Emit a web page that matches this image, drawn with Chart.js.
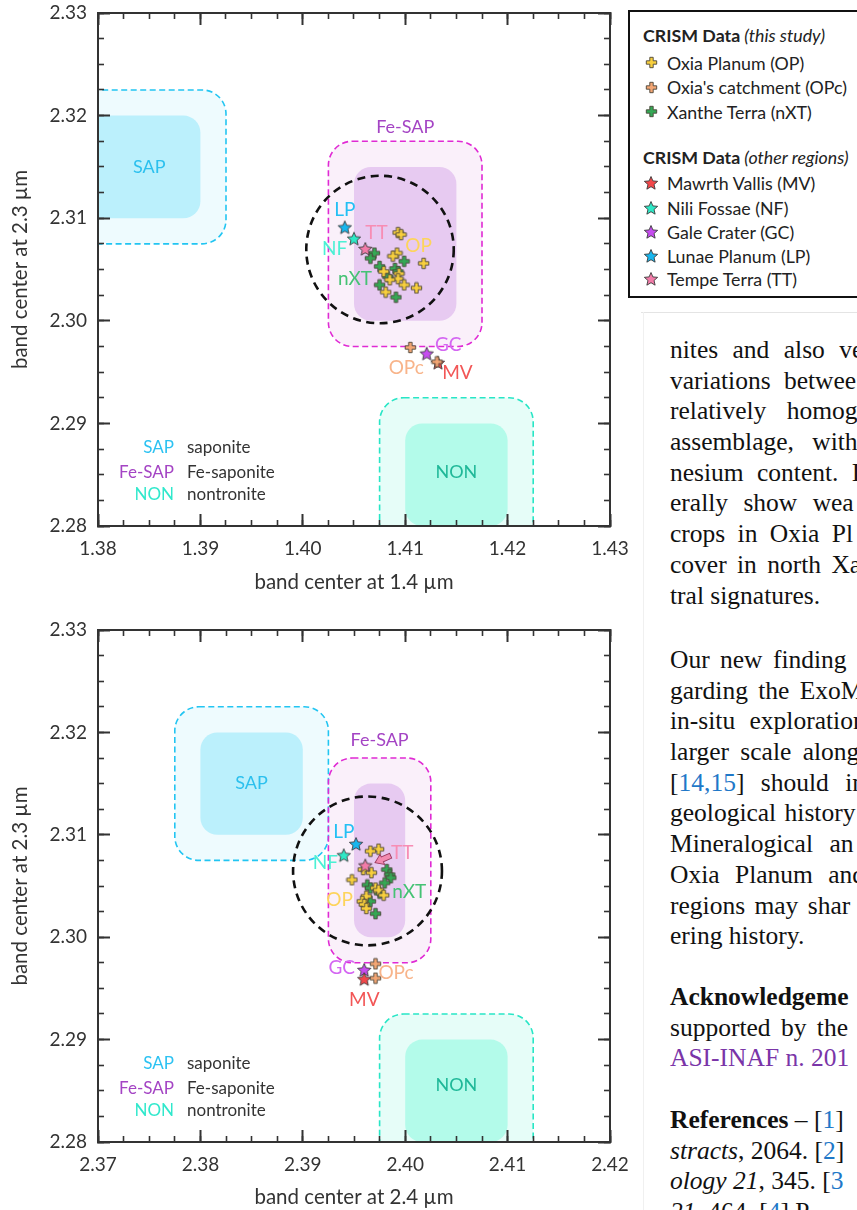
<!DOCTYPE html>
<html>
<head>
<meta charset="utf-8">
<script src="https://cdn.jsdelivr.net/npm/chart.js@4.4.1/dist/chart.umd.min.js"></script>
<style>
  html, body { margin: 0; padding: 0; background: #fff; }
  body { position: relative; width: 857px; height: 1210px; overflow: hidden; }
  canvas.plot { position: absolute; left: 0; width: 640px; height: 600px; }
  #key { position: absolute; left: 628px; top: 10px; width: 300px; height: 284px; border: 2px solid #111;
         background: #fff; font-family: Lato, sans-serif; font-size: 17.8px; color: #222; }
  #key .row { position: absolute; left: 37px; height: 20px; line-height: 20px; white-space: nowrap; }
  #key .row img { position: absolute; }
  #key .head { position: absolute; left: 13px; height: 20px; line-height: 20px; white-space: nowrap; font-weight: 700; }
  #key .head i { font-weight: 400; }
  .rule-h { position: absolute; left: 641px; top: 312px; width: 230px; height: 1px; background: #e4e4e4; }
  .rule-v { position: absolute; left: 643px; top: 312px; width: 1px; height: 900px; background: #f0f0f0; }
  .col { position: absolute; left: 670px; width: 400px; font-family: "Liberation Serif", serif; font-size: 25.5px;
         line-height: 30.7px; color: #111; }
  .col > div { white-space: pre; height: 30.7px; }
  .blue { color: #1f78c8; }
  .purple { color: #7a35a8; }
</style>
</head>
<body>
<canvas id="c14" class="plot" width="640" height="600" style="top:0"></canvas>
<canvas id="c24" class="plot" width="640" height="600" style="top:610px"></canvas>

<div id="key"></div>
<div class="rule-h"></div>
<div class="rule-v"></div>

<div class="col" style="top:335px"><div style="word-spacing:8px">nites and also ve</div><div style="word-spacing:7px">variations betwee</div><div style="word-spacing:14px">relatively homog</div><div style="word-spacing:12px">assemblage, with</div><div style="word-spacing:7px">nesium content. I</div><div style="word-spacing:9px">erally show wea</div><div style="word-spacing:6px">crops in Oxia Pl</div><div style="word-spacing:4px">cover in north Xa</div><div>tral signatures.</div></div>

<div class="col" style="top:645px"><div style="word-spacing:4px">Our new finding</div><div style="word-spacing:4px">garding the ExoM</div><div style="word-spacing:8px">in-situ exploration</div><div style="word-spacing:5px">larger scale along</div><div style="word-spacing:10px">[<span class="blue">14,15</span>] should inc</div><div style="word-spacing:2px">geological history</div><div style="word-spacing:10px">Mineralogical an</div><div style="word-spacing:9px">Oxia Planum and</div><div style="word-spacing:3px">regions may shar</div><div>ering history.</div></div>

<div class="col" style="top:982px"><div><b>Acknowledgeme</b></div><div style="word-spacing:4px">supported by the</div><div class="purple">ASI-INAF n. 201</div></div>

<div class="col" style="top:1105px"><div><b>References</b> – [<span class="blue">1</span>]</div><div><i>stracts</i>, 2064. [<span class="blue">2</span>]</div><div><i>ology 21</i>, 345. [<span class="blue">3</span></div><div><i>21</i>, 464. [<span class="blue">4</span>] P</div></div>

<script>
// ---- series ----
const seriesCodes = ['OP', 'OPc', 'nXT', 'MV', 'NF', 'GC', 'LP', 'TT'];
const seriesNames = ['Oxia Planum (OP)', "Oxia's catchment (OPc)", 'Xanthe Terra (nXT)',
  'Mawrth Vallis (MV)', 'Nili Fossae (NF)', 'Gale Crater (GC)', 'Lunae Planum (LP)', 'Tempe Terra (TT)'];
const seriesFill = ['#f8cf3e', '#f3a674', '#35a855', '#f3474a', '#2ee8c6', '#c64cf0', '#17b6ee', '#f27ba8'];
const seriesTagColor = ['#fdd45c', '#f8b48a', '#45c274', '#f25656', '#4cf0d4', '#d466f2', '#24c0f4', '#f78db4'];

// Oxia Planum crosses: band centre at 1.4, 2.4 and 2.3 µm
const op14 = [1.4093, 1.4096, 1.4092, 1.4088, 1.4118, 1.4079, 1.4094, 1.4093, 1.4085, 1.4099, 1.4111, 1.4081];
const op24 = [2.3974, 2.3966, 2.3959, 2.3967, 2.3948, 2.3971, 2.3974, 2.3979, 2.3962, 2.3958, 2.3960, 2.3962];
const op23 = [2.3086, 2.3084, 2.3066, 2.3063, 2.3056, 2.3048, 2.3046, 2.3041, 2.3040, 2.3035, 2.3032, 2.3028];

// Oxia's catchment
const opc14 = [1.4105, 1.4131];
const opc24 = [2.3971, 2.3971];
const opc23 = [2.2974, 2.2960];

// north Xanthe Terra
const nxt14 = [1.4070, 1.4066, 1.4099, 1.4075, 1.4090, 1.4093, 1.4083, 1.4075, 1.4091];
const nxt24 = [2.3982, 2.3985, 2.3986, 2.3980, 2.3963, 2.3966, 2.3975, 2.3966, 2.3971];
const nxt23 = [2.3066, 2.3061, 2.3058, 2.3053, 2.3051, 2.3048, 2.3043, 2.3035, 2.3023];

// other regions, one reading each: MV, NF, GC, LP, TT
const site14 = [1.4132, 1.4050, 1.4121, 1.4041, 1.4061];
const site24 = [2.3960, 2.3940, 2.3960, 2.3952, 2.3961];
const site23 = [2.2959, 2.3080, 2.2968, 2.3091, 2.3070];

// reference fields: core box [xmin, xmax, ymin, ymax], dashed envelope 0.0025 outside it
const regionCodes = ['SAP', 'Fe-SAP', 'NON'];
const regionNames = ['saponite', 'Fe-saponite', 'nontronite'];
const cores14 = [[1.375, 1.39, 2.31, 2.32], [1.405, 1.415, 2.30, 2.315], [1.41, 1.42, 2.28, 2.29]];
const cores24 = [[2.38, 2.39, 2.31, 2.32], [2.395, 2.40, 2.30, 2.315], [2.40, 2.41, 2.28, 2.29]];
const envelope = 0.0025;

// dashed ring: centre x, centre y, radius (x units)
const ring14 = [1.40754, 2.30695, 0.0072];
const ring24 = [2.39632, 2.30647, 0.00727];

// axis ticks
const xTicks14 = [1.38, 1.39, 1.40, 1.41, 1.42, 1.43];
const xTicks24 = [2.37, 2.38, 2.39, 2.40, 2.41, 2.42];
const yTicks23 = [2.28, 2.29, 2.30, 2.31, 2.32, 2.33];
const minorStep = 0.0025;

const regionLook = [
  {halo: '#eefbfe', core: '#bbf0fc', edge: '#22c5f2', text: '#2cc0ee', key: '#2cc2f2'},
  {halo: '#faf0fa', core: '#e7caf1', edge: '#e02ad4', text: '#a444c4', key: '#a444c4'},
  {halo: '#e6fdf8', core: '#b3fbea', edge: '#28e6c6', text: '#1fb898', key: '#30e8cc'}
];

const INK = '#333';
Chart.defaults.font.family = 'Lato, "Open Sans", sans-serif';
Chart.defaults.color = INK;

function plusIcon(fill) {
  const c = document.createElement('canvas');
  c.width = c.height = 13;
  const g = c.getContext('2d');
  const m = 6.5, a = 5.2, t = 1.7;
  const pts = [[-t, -a], [t, -a], [t, -t], [a, -t], [a, t], [t, t], [t, a], [-t, a], [-t, t], [-a, t], [-a, -t], [-t, -t]];
  g.beginPath();
  pts.forEach(([dx, dy], k) => k ? g.lineTo(m + dx, m + dy) : g.moveTo(m + dx, m + dy));
  g.closePath();
  g.fillStyle = fill; g.fill();
  g.lineWidth = 0.9; g.strokeStyle = '#4a4438'; g.stroke();
  return c;
}

function starIcon(fill) {
  const c = document.createElement('canvas');
  c.width = c.height = 16;
  const g = c.getContext('2d');
  const m = 8, R = 7, r = 3.2;
  g.beginPath();
  for (let k = 0; k < 10; k++) {
    const ang = -Math.PI / 2 + k * Math.PI / 5, rad = k % 2 ? r : R;
    const px = m + rad * Math.cos(ang), py = m + 0.5 + rad * Math.sin(ang);
    k ? g.lineTo(px, py) : g.moveTo(px, py);
  }
  g.closePath();
  g.fillStyle = fill; g.fill();
  g.lineWidth = 0.9; g.strokeStyle = '#3a3a3a'; g.stroke();
  return c;
}

const icons = seriesFill.map((f, i) => i < 3 ? plusIcon(f) : starIcon(f));

function roundBox(ctx, l, t, r, b, rad) {
  const x = Math.min(l, r), y = Math.min(t, b), w = Math.abs(r - l), h = Math.abs(b - t);
  rad = Math.min(rad, w / 2, h / 2);
  ctx.beginPath();
  ctx.moveTo(x + rad, y);
  ctx.arcTo(x + w, y, x + w, y + h, rad);
  ctx.arcTo(x + w, y + h, x, y + h, rad);
  ctx.arcTo(x, y + h, x, y, rad);
  ctx.arcTo(x, y, x + w, y, rad);
  ctx.closePath();
}

function overlay(set) {
  return {
    id: 'overlay',
    beforeDraw(chart) {
      const {ctx, chartArea: a, scales: {x, y}} = chart;
      const px = v => x.getPixelForValue(v), py = v => y.getPixelForValue(v);
      ctx.save();
      ctx.beginPath();
      ctx.rect(a.left, a.top, a.right - a.left, a.bottom - a.top);
      ctx.clip();
      const halo = c => roundBox(ctx, px(c[0] - envelope), py(c[3] + envelope), px(c[1] + envelope), py(c[2] - envelope), 24);
      set.cores.forEach((c, i) => { halo(c); ctx.fillStyle = regionLook[i].halo; ctx.fill(); });
      ctx.setLineDash([6, 3.5]);
      ctx.lineWidth = 1.6;
      set.cores.forEach((c, i) => { halo(c); ctx.strokeStyle = regionLook[i].edge; ctx.stroke(); });
      ctx.setLineDash([]);
      set.cores.forEach((c, i) => {
        roundBox(ctx, px(c[0]), py(c[3]), px(c[1]), py(c[2]), 17);
        ctx.fillStyle = regionLook[i].core;
        ctx.fill();
      });
      ctx.restore();
    },
    beforeDatasetsDraw(chart) {
      const {ctx, scales: {x, y}} = chart;
      const [cx, cy, r] = set.ring;
      const X = x.getPixelForValue(cx), Y = y.getPixelForValue(cy);
      const R = x.getPixelForValue(cx + r) - X;
      ctx.save();
      ctx.setLineDash([8, 5.5]);
      ctx.lineWidth = 2.6;
      ctx.strokeStyle = '#111';
      ctx.beginPath();
      ctx.arc(X, Y, R, 0, Math.PI * 2);
      ctx.stroke();
      ctx.restore();
    },
    afterDatasetsDraw(chart) {
      const {ctx, scales: {x, y}} = chart;
      ctx.save();
      if (set.arrow) {
        const [[x0, y0], [x1, y1]] = set.arrow;
        const ax = x.getPixelForValue(x0), ay = y.getPixelForValue(y0);
        const bx = x.getPixelForValue(x1), by = y.getPixelForValue(y1);
        const ang = Math.atan2(by - ay, bx - ax), len = Math.hypot(bx - ax, by - ay);
        ctx.translate(ax, ay);
        ctx.rotate(ang);
        const hl = 8, sw = 2.6, hw = 5.5;
        ctx.beginPath();
        ctx.moveTo(0, -sw); ctx.lineTo(len - hl, -sw); ctx.lineTo(len - hl, -hw);
        ctx.lineTo(len, 0); ctx.lineTo(len - hl, hw); ctx.lineTo(len - hl, sw); ctx.lineTo(0, sw);
        ctx.closePath();
        ctx.fillStyle = '#f28ab0'; ctx.fill();
        ctx.lineWidth = 0.9; ctx.strokeStyle = '#9a3a5e'; ctx.stroke();
        ctx.setTransform(1, 0, 0, 1, 0, 0);
      }
      ctx.textAlign = 'center';
      ctx.textBaseline = 'middle';
      ctx.font = '19px Lato';
      seriesCodes.forEach((code, i) => {
        const [tx, ty] = set.tags[code];
        ctx.fillStyle = seriesTagColor[i];
        ctx.fillText(code, x.getPixelForValue(tx), y.getPixelForValue(ty));
      });
      ctx.font = '18px Lato';
      regionCodes.forEach((code, i) => {
        const [tx, ty] = set.regionTags[i];
        ctx.fillStyle = regionLook[i].text;
        ctx.fillText(code, x.getPixelForValue(tx), y.getPixelForValue(ty));
      });
      ctx.restore();
    },
    afterDraw(chart) {
      const {ctx, chartArea: a} = chart;
      ctx.save();
      ctx.font = '17px Lato';
      ctx.textBaseline = 'middle';
      [78.5, 53.5, 31.5].forEach((up, i) => {
        ctx.textAlign = 'right';
        ctx.fillStyle = regionLook[i].key;
        ctx.fillText(regionCodes[i], a.left + 76, a.bottom - up);
        ctx.textAlign = 'left';
        ctx.fillStyle = INK;
        ctx.fillText(regionNames[i], a.left + 89, a.bottom - up);
      });
      ctx.restore();
    }
  };
}

function scalesFor(xt, xTitle, axisH, titlePad) {
  const x0 = xt[0], x1 = xt[xt.length - 1], y0 = yTicks23[0], y1 = yTicks23[yTicks23.length - 1];
  const major = {display: true, drawOnChartArea: false, drawTicks: true, tickLength: -12, tickWidth: 2, tickColor: INK};
  const minor = {display: true, drawOnChartArea: false, drawTicks: true, tickLength: -6, tickWidth: 1.6, tickColor: INK};
  const fixed = list => s => { s.ticks = list.map(v => ({value: v})); };
  const steps = (lo, hi) => s => {
    const n = Math.round((hi - lo) / minorStep);
    const list = [];
    for (let k = 0; k <= n; k++) list.push(lo + k * minorStep);
    s.ticks = list.map(v => ({value: v}));
  };
  const flatH = s => { s.height = 0; s.paddingLeft = 0; s.paddingRight = 0; };
  const flatW = s => { s.width = 0; s.paddingTop = 0; s.paddingBottom = 0; };
  const hidden = {display: false};
  return {
    x: {
      type: 'linear', position: 'bottom', weight: 1, min: x0, max: x1,
      afterBuildTicks: fixed(xt),
      grid: major, border: {display: true, width: 2, color: INK},
      ticks: {padding: 23.6, color: INK, font: {size: 19}, maxRotation: 0, autoSkip: false, callback: v => v.toFixed(2)},
      title: {display: true, text: xTitle, color: INK, font: {size: 20.5}, padding: {top: 0, bottom: titlePad}},
      afterFit: s => { s.height = axisH; s.paddingLeft = 0; s.paddingRight = 0; }
    },
    xMinor: {
      type: 'linear', position: 'bottom', weight: 0, min: x0, max: x1,
      afterBuildTicks: steps(x0, x1), grid: minor, border: hidden, ticks: hidden, afterFit: flatH
    },
    xTop: {
      type: 'linear', position: 'top', weight: 1, min: x0, max: x1,
      afterBuildTicks: fixed(xt), grid: major, border: {display: true, width: 2, color: INK}, ticks: hidden, afterFit: flatH
    },
    xTopMinor: {
      type: 'linear', position: 'top', weight: 0, min: x0, max: x1,
      afterBuildTicks: steps(x0, x1), grid: minor, border: hidden, ticks: hidden, afterFit: flatH
    },
    y: {
      type: 'linear', position: 'left', weight: 1, min: y0, max: y1,
      afterBuildTicks: fixed(yTicks23),
      grid: major, border: {display: true, width: 2, color: INK},
      ticks: {padding: 23, color: INK, font: {size: 19}, callback: v => v.toFixed(2)},
      title: {display: true, text: 'band center at 2.3 µm', color: INK, font: {size: 20.5}, padding: {top: 8, bottom: 0}},
      afterFit: s => { s.width = 98; s.paddingTop = 0; s.paddingBottom = 0; }
    },
    yMinor: {
      type: 'linear', position: 'left', weight: 0, min: y0, max: y1,
      afterBuildTicks: steps(y0, y1), grid: minor, border: hidden, ticks: hidden, afterFit: flatW
    },
    yRight: {
      type: 'linear', position: 'right', weight: 1, min: y0, max: y1,
      afterBuildTicks: fixed(yTicks23), grid: major, border: {display: true, width: 2, color: INK}, ticks: hidden, afterFit: flatW
    },
    yRightMinor: {
      type: 'linear', position: 'right', weight: 0, min: y0, max: y1,
      afterBuildTicks: steps(y0, y1), grid: minor, border: hidden, ticks: hidden, afterFit: flatW
    }
  };
}

function pairs(xs, ys) {
  return ys.map((v, i) => ({x: xs[i], y: v}));
}

function datasetsFor(opX, opcX, nxtX, siteX) {
  const groups = [pairs(opX, op23), pairs(opcX, opc23), pairs(nxtX, nxt23)];
  siteX.forEach((v, i) => groups.push([{x: v, y: site23[i]}]));
  const order = [3, 1, 3, 2, 2, 2, 2, 2];
  return groups.map((data, i) => ({
    label: seriesNames[i], data,
    pointStyle: icons[i], pointRadius: 6, pointHoverRadius: 6,
    order: order[i]
  }));
}

function build(id, set) {
  return new Chart(document.getElementById(id), {
    type: 'scatter',
    data: {datasets: set.datasets},
    options: {
      responsive: false,
      animation: false,
      events: [],
      layout: {padding: {left: 0, right: 30, top: set.padTop, bottom: 0}},
      plugins: {legend: {display: false}, tooltip: {enabled: false}},
      scales: scalesFor(set.xTicks, set.xTitle, set.axisH, set.titlePad)
    },
    plugins: [overlay(set)]
  });
}

build('c14', {
  datasets: datasetsFor(op14, opc14, nxt14, site14),
  xTicks: xTicks14, xTitle: 'band center at 1.4 µm', padTop: 13, axisH: 74, titlePad: 5,
  cores: cores14, ring: ring14,
  tags: {OP: [1.4113, 2.3073], OPc: [1.4101, 2.2954], nXT: [1.4051, 2.3041], MV: [1.4151, 2.2949],
         NF: [1.4031, 2.3070], GC: [1.4142, 2.2977], LP: [1.4041, 2.3108], TT: [1.4072, 2.3086]},
  regionTags: [[1.385, 2.315], [1.41, 2.3189], [1.415, 2.2852]]
});

build('c24', {
  datasets: datasetsFor(op24, opc24, nxt24, site24),
  xTicks: xTicks24, xTitle: 'band center at 2.4 µm', padTop: 20, axisH: 68, titlePad: 0,
  cores: cores24, ring: ring24,
  arrow: [[2.39858, 2.30796], [2.39705, 2.30728]],
  tags: {OP: [2.3936, 2.3036], OPc: [2.3991, 2.2965], nXT: [2.4004, 2.3044], MV: [2.3960, 2.2939],
         NF: [2.3922, 2.3073], GC: [2.3938, 2.2970], LP: [2.3940, 2.3103], TT: [2.3997, 2.3082]},
  regionTags: [[2.385, 2.315], [2.3975, 2.3192], [2.405, 2.2855]]
});

// series key, built from the same names and marker icons
const key = document.getElementById('key');
const heads = [['CRISM Data', ' (this study)', 13], ['CRISM Data', ' (other regions)', 134.5]];
heads.forEach(([b, it, top]) => {
  const h = document.createElement('div');
  h.className = 'head';
  h.style.top = top + 'px';
  h.innerHTML = b + '<i>' + it + '</i>';
  key.appendChild(h);
});
const rowTops = [40.5, 65, 89.5, 161, 185.5, 209.5, 233.5, 257];
seriesNames.forEach((name, i) => {
  const row = document.createElement('div');
  row.className = 'row';
  row.style.top = rowTops[i] + 'px';
  const img = document.createElement('img');
  img.src = icons[i].toDataURL();
  img.style.left = (-15.7 - icons[i].width / 2) + 'px';
  img.style.top = (10 - icons[i].height / 2) + 'px';
  row.appendChild(img);
  row.appendChild(document.createTextNode(name));
  key.appendChild(row);
});
</script>
</body>
</html>
